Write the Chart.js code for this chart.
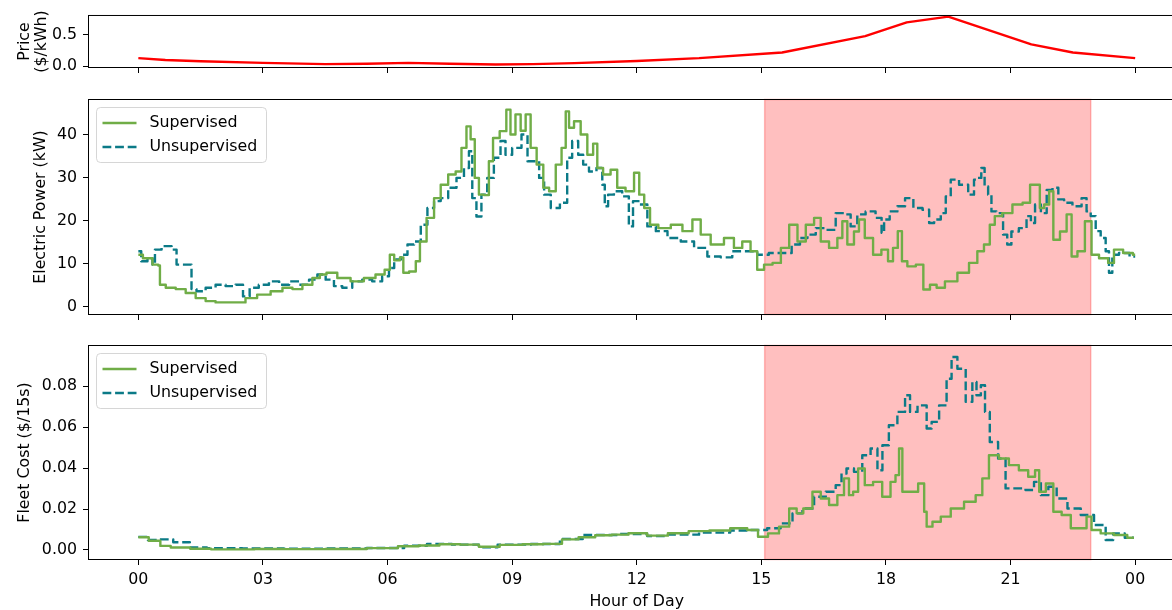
<!DOCTYPE html>
<html>
<head>
<meta charset="utf-8">
<script src="https://cdn.jsdelivr.net/npm/chart.js@4.4.1/dist/chart.umd.min.js"></script>
<style>
html, body { margin: 0; padding: 0; overflow: hidden; background: #fff; width: 1172px; height: 610px; }
canvas.panel { position: absolute; left: 0; top: 0; }
</style>
</head>
<body>
<canvas id="priceChart" class="panel" width="1200" height="610"></canvas>
<canvas id="powerChart" class="panel" width="1200" height="610"></canvas>
<canvas id="costChart" class="panel" width="1200" height="610"></canvas>
<script>
// x axis
const hourTicks = [0, 3, 6, 9, 12, 15, 18, 21, 24];
const hourTickLabels = ['00', '03', '06', '09', '12', '15', '18', '21', '00'];
const peakWindow = [15.08, 22.93];

// price panel
const priceHours = [0, 0.65, 1.5, 3, 4.5, 5.5, 6.5, 7.5, 8.6, 9.5, 10.5, 12, 13.5, 15.5, 17.5, 18.5, 19.5, 21.5, 22.5, 24];
const priceValues = [0.13, 0.10, 0.08, 0.055, 0.035, 0.04, 0.055, 0.04, 0.028, 0.035, 0.05, 0.085, 0.13, 0.22, 0.48, 0.70, 0.79, 0.35, 0.22, 0.13];
const priceTicks = [0, 0.5];
const priceTickLabels = ['0.0', '0.5'];

// power panel (kW)
const supPowerHours = [0, 0.22, 0.46, 0.5, 0.54, 0.78, 1.02, 1.26, 1.5, 1.74, 1.98, 2.46, 2.7, 3.02, 3.35, 3.59, 3.83, 4.07, 4.31, 4.43, 4.63, 4.95, 5.27, 5.59, 5.83, 6.03, 6.08, 6.24, 6.36, 6.4, 6.64, 6.72, 6.84, 7.04, 7.2, 7.36, 7.56, 7.72, 7.84, 7.96, 8.04, 8.16, 8.24, 8.4, 8.48, 8.6, 8.8, 8.92, 9.0, 9.16, 9.25, 9.4, 9.49, 9.69, 9.81, 9.97, 10.13, 10.25, 10.33, 10.41, 10.57, 10.73, 10.89, 11.01, 11.09, 11.29, 11.45, 11.61, 11.85, 12.02, 12.1, 12.26, 12.38, 12.66, 12.98, 13.22, 13.46, 13.62, 13.94, 14.26, 14.42, 14.66, 14.82, 14.98, 15.15, 15.39, 15.55, 15.79, 15.95, 16.19, 16.35, 16.51, 16.75, 16.91, 16.99, 17.15, 17.31, 17.39, 17.59, 17.79, 17.99, 18.11, 18.23, 18.34, 18.43, 18.6, 18.84, 18.96, 19.16, 19.28, 19.56, 19.88, 20.12, 20.28, 20.44, 20.56, 20.68, 20.92, 21.17, 21.41, 21.53, 21.68, 21.73, 21.89, 21.97, 22.09, 22.29, 22.41, 22.53, 22.69, 22.89, 23.01, 23.25, 23.45, 23.53, 23.89, 24.0];
const supPowerValues = [12.1, 11.3, 9.8, 9.6, 5.1, 4.4, 4.1, 3.2, 2.0, 1.3, 1.0, 1.0, 2.0, 2.8, 3.6, 4.4, 4.1, 5.1, 6.7, 7.5, 7.9, 6.7, 5.9, 6.7, 7.5, 8.6, 12.1, 10.8, 11.5, 7.9, 8.2, 10.6, 15.2, 20.7, 25.3, 28.4, 30.8, 31.5, 37, 42, 39, 30, 26.1, 26, 33.9, 39.3, 40.9, 45.9, 40.1, 44.8, 41, 44.8, 37, 33.1, 27.7, 26.9, 33.1, 37, 45.5, 41.7, 43.2, 40.1, 35.4, 38, 32.3, 30.8, 31.9, 27.7, 26.9, 31.2, 26.1, 23, 19.1, 18.3, 19.1, 17.6, 20.3, 16.8, 14.5, 16, 13.7, 15.2, 12.9, 8.6, 9.8, 10.2, 13.7, 19.1, 15.2, 19.1, 20.7, 15.2, 13.7, 16, 19.9, 14.5, 17.5, 20.3, 16, 12.1, 13.3, 10.6, 13.7, 17.6, 10.6, 9.4, 9.8, 4.0, 5.1, 4.4, 5.9, 7.9, 10.2, 12.9, 14.5, 19.1, 21.1, 21.8, 23.8, 24.2, 28.4, 28.4, 23, 23.8, 26.9, 15.6, 17.5, 21.5, 11.7, 12.9, 19.9, 12.1, 11.3, 10.2, 13.3, 12.5, 12.1];
const unsupPowerHours = [0, 0.14, 0.3, 0.38, 0.42, 0.7, 0.9, 0.94, 1.26, 1.3, 1.5, 1.74, 1.98, 2.22, 2.46, 2.58, 2.78, 3.02, 3.27, 3.51, 3.75, 3.99, 4.23, 4.39, 4.63, 4.79, 5.03, 5.27, 5.51, 5.75, 5.99, 6.08, 6.24, 6.4, 6.56, 6.72, 6.88, 7.04, 7.2, 7.36, 7.56, 7.76, 7.92, 8.0, 8.08, 8.2, 8.32, 8.48, 8.64, 8.8, 8.88, 9.12, 9.33, 9.41, 9.61, 9.69, 9.85, 10.01, 10.29, 10.36, 10.53, 10.65, 10.77, 10.93, 11.13, 11.21, 11.25, 11.37, 11.53, 11.77, 11.85, 11.97, 12.17, 12.34, 12.58, 12.9, 13.22, 13.54, 13.86, 14.18, 14.42, 14.74, 15.06, 15.3, 15.63, 15.83, 16.03, 16.19, 16.43, 16.67, 16.91, 17.07, 17.23, 17.39, 17.63, 17.87, 17.92, 17.99, 18.19, 18.36, 18.56, 18.76, 19.0, 19.08, 19.24, 19.4, 19.48, 19.64, 19.88, 20.08, 20.16, 20.24, 20.35, 20.4, 20.52, 20.56, 20.76, 20.88, 20.96, 21.08, 21.32, 21.45, 21.53, 21.65, 21.81, 21.93, 22.09, 22.21, 22.37, 22.61, 22.81, 22.85, 23.01, 23.09, 23.25, 23.33, 23.41, 23.49, 23.73, 24.0];
const unsupPowerValues = [12.9, 10.6, 11.3, 9.8, 13.3, 14.1, 13.3, 9.8, 9.8, 4.1, 3.6, 4.4, 5.1, 4.8, 5.1, 2.4, 4.4, 5.1, 5.9, 5.1, 5.9, 5.1, 6.3, 7.5, 6.3, 4.8, 4.4, 5.9, 6.3, 5.9, 7.1, 9.0, 11, 12.1, 14.5, 15.2, 19.1, 23, 24.6, 25.3, 27.7, 30, 32.3, 36.2, 25.3, 21, 26.1, 30, 34.7, 38.6, 35.4, 37, 40.1, 33.9, 33.9, 30, 26.1, 23, 24.2, 34.7, 38.6, 35.4, 33.1, 31.5, 32.3, 28.4, 23.4, 26.1, 26.9, 25.7, 18.7, 24.6, 23.8, 18.7, 17.6, 16, 15.2, 13.7, 11.7, 11.5, 12.9, 12.9, 12.1, 12.5, 12.5, 14.5, 16, 16.8, 18.3, 17.9, 21.8, 21.5, 18.7, 21.5, 22.2, 20.7, 17.2, 20.3, 22.2, 23.4, 25.3, 23, 22.6, 19.5, 20.3, 21.8, 25.7, 29.6, 28.4, 26.1, 29.6, 30, 32.3, 28, 26.1, 22.2, 21.8, 16.8, 14.5, 17.5, 18.3, 21.1, 19.5, 23.8, 21.8, 27.2, 27.7, 25, 24.2, 23.4, 25.3, 22.2, 21.1, 17.6, 16, 12.9, 7.9, 12.1, 12.5, 11.7];
const powerTicks = [0, 10, 20, 30, 40];
const powerTickLabels = ['0', '10', '20', '30', '40'];

// fleet cost panel ($/15s)
const supCostHours = [0, 0.5, 0.56, 1.0, 1.5, 2, 2.6, 3, 4, 5, 6, 6.5, 7, 7.5, 8.0, 8.4, 9, 9.5, 10, 10.4, 10.8, 11.2, 11.6, 12, 12.5, 13, 13.5, 14, 14.5, 14.82, 15.02, 15.3, 15.55, 15.79, 15.91, 16.11, 16.35, 16.51, 16.75, 16.91, 17.07, 17.15, 17.27, 17.39, 17.59, 17.79, 18.03, 18.19, 18.27, 18.36, 18.43, 18.67, 18.88, 18.96, 19.0, 19.24, 19.4, 19.72, 20.04, 20.28, 20.36, 20.6, 20.84, 21.08, 21.32, 21.53, 21.65, 21.73, 21.97, 22.09, 22.37, 22.53, 22.77, 22.89, 23.01, 23.33, 23.65, 23.97];
const supCostValues = [0.0062, 0.0045, 0.002, 0.0012, 0.0006, 0.0003, 0.0003, 0.0005, 0.0004, 0.0005, 0.0009, 0.0018, 0.0022, 0.0028, 0.0026, 0.0016, 0.0025, 0.0028, 0.003, 0.0052, 0.0062, 0.0072, 0.0075, 0.0082, 0.007, 0.0082, 0.0092, 0.0095, 0.0106, 0.0098, 0.0065, 0.0081, 0.0114, 0.0203, 0.0179, 0.0203, 0.0285, 0.0252, 0.022, 0.0268, 0.035, 0.0268, 0.0285, 0.0398, 0.0317, 0.0333, 0.026, 0.0333, 0.0366, 0.0496, 0.0285, 0.0285, 0.0325, 0.0187, 0.0114, 0.0138, 0.0163, 0.0203, 0.0236, 0.0268, 0.035, 0.0463, 0.0447, 0.0415, 0.039, 0.0358, 0.039, 0.0285, 0.0325, 0.0187, 0.0171, 0.0106, 0.0106, 0.0163, 0.0098, 0.0081, 0.0073, 0.006];
const unsupCostHours = [0, 0.46, 0.5, 1.18, 1.3, 2, 3, 4, 5, 6, 6.8, 7.1, 8, 8.4, 8.9, 10, 10.3, 11.1, 12, 12.5, 13, 14, 14.5, 14.98, 15.3, 15.63, 15.87, 16.11, 16.43, 16.67, 16.91, 16.95, 17.15, 17.31, 17.55, 17.71, 17.88, 17.95, 18.19, 18.36, 18.56, 18.6, 18.92, 19.04, 19.16, 19.4, 19.52, 19.64, 19.8, 20.04, 20.12, 20.24, 20.33, 20.44, 20.56, 20.84, 20.92, 21.24, 21.48, 21.65, 21.81, 22.01, 22.21, 22.53, 22.85, 23.17, 23.41, 23.53, 23.97];
const unsupCostValues = [0.0064, 0.0049, 0.0052, 0.0038, 0.0012, 0.0009, 0.0008, 0.0006, 0.0007, 0.001, 0.0021, 0.003, 0.0026, 0.0013, 0.0026, 0.0029, 0.0054, 0.0073, 0.0078, 0.0068, 0.0075, 0.0085, 0.0095, 0.0098, 0.0106, 0.013, 0.0179, 0.0203, 0.026, 0.0285, 0.0317, 0.0374, 0.0398, 0.0382, 0.0463, 0.0496, 0.039, 0.0512, 0.061, 0.0675, 0.0756, 0.0675, 0.0707, 0.0594, 0.0626, 0.0707, 0.0837, 0.0943, 0.0886, 0.0724, 0.0821, 0.0756, 0.0805, 0.0675, 0.0528, 0.0447, 0.0301, 0.0301, 0.0293, 0.0333, 0.0268, 0.0309, 0.0252, 0.0203, 0.0171, 0.0122, 0.0049, 0.0081, 0.006];
const costTicks = [0, 0.02, 0.04, 0.06, 0.08];
const costTickLabels = ['0.00', '0.02', '0.04', '0.06', '0.08'];

const FONT = 15.8;
const GREEN = '#70AD47';
const TEAL = '#0B7A87';

Chart.defaults.font.family = '"DejaVu Sans", sans-serif';
Chart.defaults.font.size = FONT;
Chart.defaults.color = '#000';

function toPoints(hours, values) {
    return hours.map((h, i) => ({x: h, y: values[i]}));
}

// box around the plot area, like matplotlib spines
const frame = {
    id: 'frame',
    afterDatasetsDraw(chart) {
        const {ctx, chartArea: a} = chart;
        ctx.save();
        ctx.strokeStyle = '#000';
        ctx.lineWidth = 1;
        ctx.strokeRect(a.left, a.top, a.right - a.left, a.bottom - a.top);
        ctx.restore();
    }
};

// shaded peak window
const peakShade = {
    id: 'peakShade',
    beforeDatasetsDraw(chart) {
        const {ctx, chartArea: a, scales} = chart;
        const x0 = scales.x.getPixelForValue(peakWindow[0]);
        const x1 = scales.x.getPixelForValue(peakWindow[1]);
        ctx.save();
        ctx.fillStyle = 'rgba(255,0,0,0.25)';
        ctx.fillRect(x0, a.top, x1 - x0, a.bottom - a.top);
        ctx.strokeStyle = 'rgba(255,0,0,0.25)';
        ctx.lineWidth = 1.5;
        ctx.strokeRect(x0, a.top, x1 - x0, a.bottom - a.top);
        ctx.restore();
    }
};

// legend in the upper left corner of the plot
const boxLegend = {
    id: 'boxLegend',
    afterDraw(chart) {
        const {ctx, chartArea: a} = chart;
        const x = a.left + 8, y = a.top + 8, w = 170, h = 55;
        ctx.save();
        ctx.beginPath();
        if (ctx.roundRect) ctx.roundRect(x, y, w, h, 4); else ctx.rect(x, y, w, h);
        ctx.fillStyle = 'rgba(255,255,255,0.8)';
        ctx.fill();
        ctx.strokeStyle = 'rgba(204,204,204,0.8)';
        ctx.lineWidth = 1;
        ctx.stroke();
        chart.data.datasets.forEach((ds, i) => {
            const cy = y + 15.5 + i * 24;
            ctx.beginPath();
            ctx.setLineDash(ds.borderDash || []);
            ctx.strokeStyle = ds.borderColor;
            ctx.lineWidth = ds.borderWidth;
            ctx.moveTo(x + 6, cy);
            ctx.lineTo(x + 40, cy);
            ctx.stroke();
            ctx.setLineDash([]);
            ctx.fillStyle = '#000';
            ctx.font = FONT + 'px "DejaVu Sans"';
            ctx.textBaseline = 'middle';
            ctx.fillText(ds.label, x + 53, cy);
        });
        ctx.restore();
    }
};

const tickGrid = { drawOnChartArea: false, drawTicks: true, tickLength: 5.5, tickColor: '#000', lineWidth: 1 };

function xScale(showLabels, bottom) {
    return {
        type: 'linear', min: -1.2, max: 25.2,
        afterBuildTicks: s => { s.ticks = hourTicks.map(v => ({value: v})); },
        afterFit: s => { s.height = 610 - bottom; },
        grid: tickGrid,
        border: { display: false },
        ticks: { display: showLabels, padding: 5, maxRotation: 0, autoSkip: false, callback: (v, i) => hourTickLabels[i] },
        title: { display: showLabels, text: 'Hour of Day', padding: { top: 0, bottom: -1.5 } }
    };
}

function yScale(min, max, ticks, labels, title, titlePad, lineHeight) {
    return {
        type: 'linear', min: min, max: max,
        afterBuildTicks: s => { s.ticks = ticks.map(v => ({value: v})); },
        afterFit: s => { s.width = 88.5; },
        grid: tickGrid,
        border: { display: false },
        ticks: { padding: 6, callback: (v, i) => labels[i] },
        title: { display: true, text: title, font: { size: FONT, lineHeight: lineHeight }, padding: { top: titlePad, bottom: 0 } }
    };
}

function lineSet(label, hours, values, color, dash, stepped) {
    return {
        label: label,
        data: toPoints(hours, values),
        borderColor: color,
        backgroundColor: color,
        borderWidth: 2.4,
        borderDash: dash,
        borderJoinStyle: 'round',
        stepped: stepped,
        pointRadius: 0,
        tension: 0,
        fill: false
    };
}

function baseOptions(top, bottom, yCfg) {
    return {
        responsive: false,
        animation: false,
        events: [],
        layout: { padding: { top: top, right: 15, bottom: 0, left: 0 } },
        plugins: { legend: { display: false }, tooltip: { enabled: false } },
        scales: { x: xScale(bottom > 500, bottom), y: yCfg }
    };
}

new Chart(document.getElementById('priceChart'), {
    type: 'line',
    data: { datasets: [lineSet('Price', priceHours, priceValues, '#ff0000', [], false)] },
    options: baseOptions(14.5, 67.5, yScale(-0.019, 0.809, priceTicks, priceTickLabels, ['Price', '($/kWh)'], 16.5, 1.06)),
    plugins: [frame]
});

new Chart(document.getElementById('powerChart'), {
    type: 'line',
    data: { datasets: [
        lineSet('Supervised', supPowerHours, supPowerValues, GREEN, [], 'middle'),
        lineSet('Unsupervised', unsupPowerHours, unsupPowerValues, TEAL, [8.8, 3.8], 'middle')
    ] },
    options: baseOptions(99.5, 314.5, yScale(-1.82, 48.27, powerTicks, powerTickLabels, 'Electric Power (kW)', 31, 1.2)),
    plugins: [peakShade, frame, boxLegend]
});

new Chart(document.getElementById('costChart'), {
    type: 'line',
    data: { datasets: [
        lineSet('Supervised', supCostHours, supCostValues, GREEN, [], 'middle'),
        lineSet('Unsupervised', unsupCostHours, unsupCostValues, TEAL, [8.8, 3.8], 'middle')
    ] },
    options: baseOptions(345.5, 559.5, yScale(-0.00465, 0.09995, costTicks, costTickLabels, 'Fleet Cost ($/15s)', 15.7, 1.2)),
    plugins: [peakShade, frame, boxLegend]
});
</script>
</body>
</html>
